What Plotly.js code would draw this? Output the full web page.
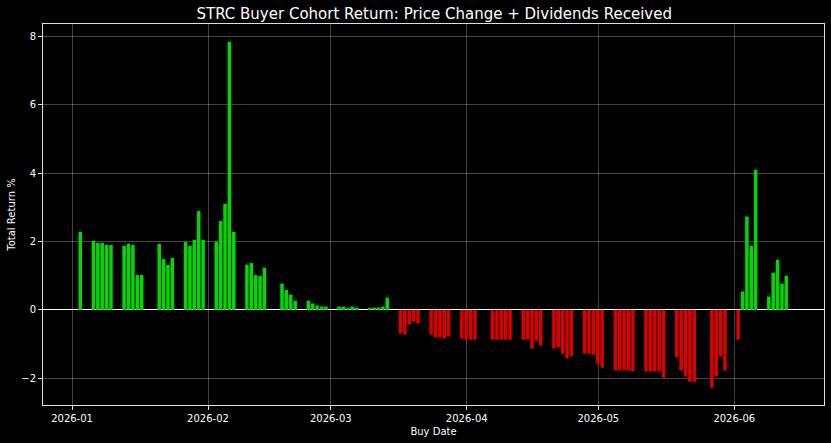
<!DOCTYPE html>
<html>
<head>
<meta charset="utf-8">
<script src="https://cdn.plot.ly/plotly-3.0.1.min.js"></script>
<style>
  html, body { margin: 0; padding: 0; background: #000; }
  #chart { width: 831px; height: 443px; }
</style>
</head>
<body>
<div id="chart"></div>
<script>
const buyDates = [
  '2026-01-02', '2026-01-05', '2026-01-06', '2026-01-07', '2026-01-08', '2026-01-09',
  '2026-01-12', '2026-01-13', '2026-01-14', '2026-01-15', '2026-01-16',
  '2026-01-20', '2026-01-21', '2026-01-22', '2026-01-23',
  '2026-01-26', '2026-01-27', '2026-01-28', '2026-01-29', '2026-01-30',
  '2026-02-02', '2026-02-03', '2026-02-04', '2026-02-05', '2026-02-06',
  '2026-02-09', '2026-02-10', '2026-02-11', '2026-02-12', '2026-02-13',
  '2026-02-17', '2026-02-18', '2026-02-19', '2026-02-20',
  '2026-02-23', '2026-02-24', '2026-02-25', '2026-02-26', '2026-02-27',
  '2026-03-02', '2026-03-03', '2026-03-04', '2026-03-05', '2026-03-06',
  '2026-03-09', '2026-03-10', '2026-03-11', '2026-03-12', '2026-03-13',
  '2026-03-16', '2026-03-17', '2026-03-18', '2026-03-19', '2026-03-20',
  '2026-03-23', '2026-03-24', '2026-03-25', '2026-03-26', '2026-03-27',
  '2026-03-30', '2026-03-31', '2026-04-01', '2026-04-02',
  '2026-04-06', '2026-04-07', '2026-04-08', '2026-04-09', '2026-04-10',
  '2026-04-13', '2026-04-14', '2026-04-15', '2026-04-16', '2026-04-17',
  '2026-04-20', '2026-04-21', '2026-04-22', '2026-04-23', '2026-04-24',
  '2026-04-27', '2026-04-28', '2026-04-29', '2026-04-30', '2026-05-01',
  '2026-05-04', '2026-05-05', '2026-05-06', '2026-05-07', '2026-05-08',
  '2026-05-11', '2026-05-12', '2026-05-13', '2026-05-14', '2026-05-15',
  '2026-05-18', '2026-05-19', '2026-05-20', '2026-05-21', '2026-05-22',
  '2026-05-26', '2026-05-27', '2026-05-28', '2026-05-29',
  '2026-06-01', '2026-06-02', '2026-06-03', '2026-06-04', '2026-06-05',
  '2026-06-08', '2026-06-09', '2026-06-10', '2026-06-11', '2026-06-12',
];

const totalReturn = [
  2.28, 2.02, 1.96, 1.96, 1.90, 1.90,
  1.87, 1.93, 1.90, 1.02, 1.02,
  1.93, 1.49, 1.32, 1.52,
  1.99, 1.87, 2.05, 2.89, 2.05,
  1.99, 2.60, 3.10, 7.84, 2.28,
  1.32, 1.37, 1.02, 0.99, 1.23,
  0.77, 0.59, 0.45, 0.27,
  0.27, 0.19, 0.13, 0.10, 0.10,
  0.10, 0.10, 0.04, 0.10, 0.07,
  0.04, 0.07, 0.07, 0.10, 0.36,
  -0.69, -0.72, -0.43, -0.34, -0.40,
  -0.72, -0.81, -0.81, -0.84, -0.78,
  -0.84, -0.87, -0.87, -0.87,
  -0.87, -0.87, -0.87, -0.87, -0.87,
  -0.87, -0.87, -1.13, -0.90, -1.04,
  -1.13, -1.10, -1.28, -1.42, -1.36,
  -1.28, -1.28, -1.31, -1.57, -1.69,
  -1.77, -1.77, -1.77, -1.77, -1.80,
  -1.80, -1.80, -1.80, -1.80, -1.98,
  -1.39, -1.77, -1.95, -2.10, -2.10,
  -2.27, -1.95, -1.36, -1.77,
  -0.87, 0.54, 2.73, 1.88, 4.10,
  0.39, 1.09, 1.47, 0.77, 1.00,
];

const yTicks = [-2, 0, 2, 4, 6, 8];

const colors = {
  up: '#00d900',
  down: '#d90000',
  text: '#ffffff',
  grid: 'rgba(255,255,255,0.26)',
  spine: '#dddddd',
};

const DAY_MS = 86400000;

const getBarColors = (values) => values.map((v) => (v >= 0 ? colors.up : colors.down));

const axisBase = {
  showline: true,
  mirror: true,
  linecolor: colors.spine,
  linewidth: 1,
  ticks: 'outside',
  ticklen: 4,
  tickwidth: 1,
  tickcolor: colors.spine,
  showgrid: true,
  gridcolor: colors.grid,
  gridwidth: 1,
  tickfont: { family: 'DejaVu Sans', size: 10, color: colors.text },
  automargin: false,
};

const trace = {
  type: 'bar',
  x: buyDates,
  y: totalReturn,
  width: 0.8 * DAY_MS,
  offset: 0.475 * DAY_MS,
  marker: { color: getBarColors(totalReturn), line: { width: 0 } },
  hoverinfo: 'x+y',
};

const layout = {
  width: 831,
  height: 443,
  paper_bgcolor: '#000000',
  plot_bgcolor: '#000000',
  margin: { l: 43, r: 7, t: 24, b: 38 },
  showlegend: false,
  font: { family: 'DejaVu Sans', color: colors.text },
  title: {
    text: 'STRC Buyer Cohort Return: Price Change + Dividends Received',
    font: { family: 'DejaVu Sans', size: 15, color: colors.text },
    x: 0.5225,
    xanchor: 'center',
    y: 0.97,
    yanchor: 'middle',
  },
  xaxis: Object.assign({}, axisBase, {
    type: 'date',
    range: ['2025-12-25 09:00', '2026-06-21 11:00'],
    tick0: '2026-01-01',
    dtick: 'M1',
    tickformat: '%Y-%m',
    zeroline: false,
    title: {
      text: 'Buy Date',
      font: { family: 'DejaVu Sans', size: 10, color: colors.text },
      standoff: 4,
    },
  }),
  yaxis: Object.assign({}, axisBase, {
    range: [-2.78, 8.36],
    tickmode: 'array',
    tickvals: yTicks,
    ticktext: yTicks.map((t) => (t < 0 ? '\u2212' + Math.abs(t) : String(t))),
    zeroline: true,
    zerolinecolor: '#ffffff',
    zerolinewidth: 1.3,
    title: {
      text: 'Total Return %',
      font: { family: 'DejaVu Sans', size: 10, color: colors.text },
      standoff: 3,
    },
  }),
};

const config = {
  responsive: false,
  displayModeBar: false,
};

Plotly.newPlot('chart', [trace], layout, config);
</script>
</body>
</html>
